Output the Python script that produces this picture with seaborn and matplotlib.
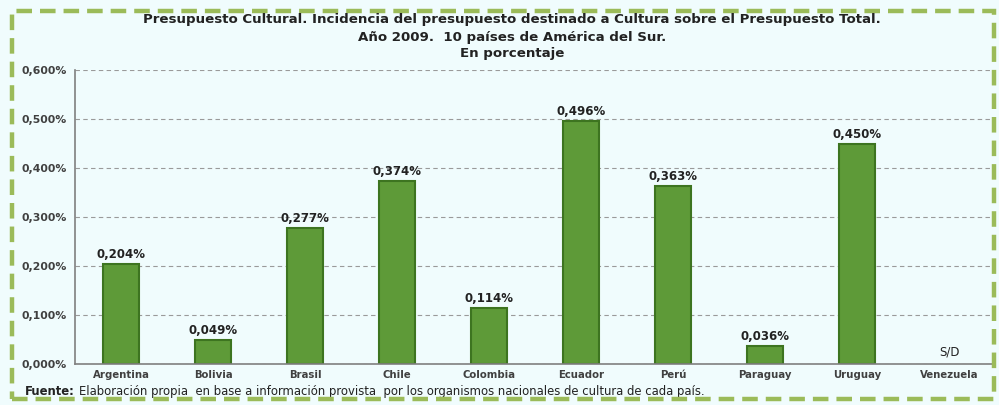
import pandas as pd
import numpy as np
import seaborn as sns
import matplotlib.pyplot as plt
from matplotlib.patches import Rectangle
from matplotlib.ticker import FuncFormatter

##################### data

paises = ['Argentina', 'Bolivia', 'Brasil', 'Chile', 'Colombia',
          'Ecuador', 'Perú', 'Paraguay', 'Uruguay', 'Venezuela']
# porcentaje del presupuesto total (Venezuela sin dato)
incidencia = [0.204, 0.049, 0.277, 0.374, 0.114, 0.496, 0.363, 0.036, 0.450, np.nan]
y_ticks = [0.0, 0.1, 0.2, 0.3, 0.4, 0.5, 0.6]

df = pd.DataFrame({'pais': paises, 'valor': incidencia})

##################### style

sns.set_style('white')
plt.rcParams['font.family'] = ['DejaVu Sans']

bg = '#F0FCFD'
verde = '#5E9A38'
verde_borde = '#3D7420'
gris = '#404040'
negro = '#222222'

fig = plt.figure(figsize=(9.99, 4.05), dpi=100, facecolor=bg)
ax = fig.add_axes([75 / 999, 41 / 405, 920 / 999, 294 / 405])
ax.set_facecolor(bg)

sns.barplot(data=df, x='pais', y='valor', color=verde, width=0.4,
            edgecolor=verde_borde, linewidth=1.5, saturation=1, ax=ax)

# labels on top of bars
for i, v in enumerate(incidencia):
    if np.isnan(v):
        ax.text(i, 0.012, 'S/D', ha='center', va='bottom', fontsize=8.5, color=negro)
    else:
        ax.text(i, v + 0.006, f'{v:.3f}%'.replace('.', ','), ha='center', va='bottom',
                fontsize=8.5, fontweight='bold', color=negro)

ax.set_ylim(0, 0.6)
ax.set_xlim(-0.5, len(paises) - 0.5)
ax.set_yticks(y_ticks)
ax.yaxis.set_major_formatter(FuncFormatter(lambda v, p: f'{v:.3f}%'.replace('.', ',')))
ax.yaxis.grid(True, linestyle=(0, (4, 3)), color='#9A9A9A', linewidth=0.8)
ax.set_axisbelow(True)

# ticks between the categories
ax.set_xticks(np.arange(-0.5, len(paises), 1), minor=False)
ax.set_xticklabels([])
ax.set_xticks(np.arange(len(paises)), minor=True)
ax.set_xticklabels(paises, minor=True)
ax.tick_params(axis='x', which='major', length=4, color='#808080', direction='out')
ax.tick_params(axis='x', which='minor', length=0, labelsize=7.3, labelcolor=gris, pad=4)
ax.tick_params(axis='y', length=4, color='#808080', labelsize=7.8, labelcolor=gris, pad=2)
for lab in ax.get_xticklabels(minor=True) + ax.get_yticklabels():
    lab.set_fontweight('bold')

ax.set_xlabel('')
ax.set_ylabel('')
for s in ['top', 'right']:
    ax.spines[s].set_visible(False)
for s in ['left', 'bottom']:
    ax.spines[s].set_color('#808080')
    ax.spines[s].set_linewidth(1.2)

##################### titles and source

titulo = ['Presupuesto Cultural. Incidencia del presupuesto destinado a Cultura sobre el Presupuesto Total.',
          'Año 2009.  10 países de América del Sur.',
          'En porcentaje']
for linea, ypx in zip(titulo, [20, 37, 53]):
    fig.text(512 / 999, 1 - ypx / 405, linea, ha='center', va='center',
             fontsize=9.6, fontweight='bold', color=negro)

t = fig.text(25 / 999, 1 - 395 / 405, 'Fuente:', ha='left', va='baseline',
             fontsize=8.4, fontweight='bold', color=negro)
ax.annotate('Elaboración propia  en base a información provista  por los organismos nacionales de cultura de cada país.',
            xy=(1, 0), xycoords=t, xytext=(3, 0), textcoords='offset points',
            ha='left', va='bottom', fontsize=8.4, color=negro, annotation_clip=False)

# dashed green frame
fig.patches.append(Rectangle((12 / 999, 6 / 405), 982 / 999, 388 / 405, transform=fig.transFigure,
                             fill=False, edgecolor='#9BBB59', linewidth=3.2,
                             linestyle=(0, (3.5, 1.8))))

fig.savefig('out.png', dpi=100, facecolor=bg)
